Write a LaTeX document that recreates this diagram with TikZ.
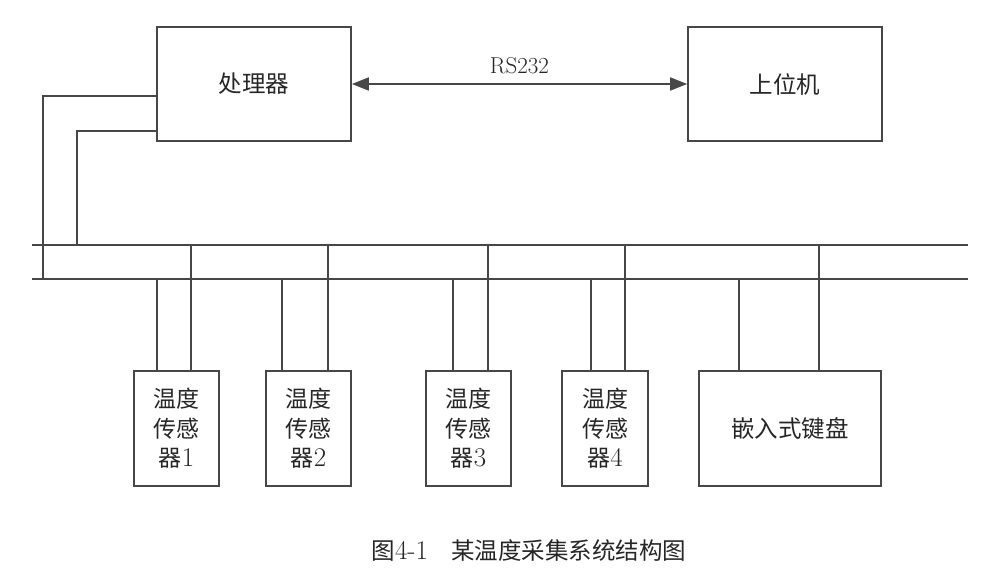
\documentclass[tikz,border=0pt]{standalone}
\usepackage{fontspec}
\newfontfamily\cjk{Noto Sans CJK SC}
\usetikzlibrary{arrows.meta}
\newcommand{\dg}[1]{{\rmfamily\fontsize{27}{29.5}\selectfont #1}}
\begin{document}
\begin{tikzpicture}[x=1pt,y=-1pt,
  ln/.style={line width=1.6pt,draw=black!72},
  box/.style={ln,rectangle,inner sep=0pt,text=black!85,align=center,
    font=\cjk\fontsize{23}{29.5}\selectfont},
  bigbox/.style={box,minimum width=194pt,minimum height=114pt},
  sbox/.style={box,minimum width=85pt,minimum height=115pt},
  arr/.style={ln,{Triangle[length=17pt,width=13pt]}-{Triangle[length=17pt,width=13pt]}}]
\useasboundingbox (0,0) rectangle (1008,583);
% boxes
\node[bigbox,font=\cjk\fontsize{23.5}{28}\selectfont] (proc) at (254,84) {处理器};
\node[bigbox,font=\cjk\fontsize{23.5}{28}\selectfont] (host) at (785,84) {上位机};
\node[sbox] (s1) at (176.5,428.5) {温度\\传感\\器\dg{1}};
\node[sbox] (s2) at (308.5,428.5) {温度\\传感\\器\dg{2}};
\node[sbox] (s3) at (468.5,428.5) {温度\\传感\\器\dg{3}};
\node[sbox,minimum width=86pt] (s4) at (605,428.5) {温度\\传感\\器\dg{4}};
\node[box,minimum width=182pt,minimum height=115pt,font=\cjk\fontsize{23.5}{28}\selectfont] (kb) at (790,428.5) {嵌入式键盘};
% RS232 link
\draw[arr] (proc.east) -- node[above=6pt,font=\fontsize{23}{27}\selectfont,text=black!85] (rs) {RS232} (host.west);
% buses
\coordinate (ub0) at (32,245); \coordinate (ub1) at (968,245);
\coordinate (lb0) at (32,279); \coordinate (lb1) at (968,279);
\draw[ln] (ub0) -- (ub1);
\draw[ln] (lb0) -- (lb1);
% processor to buses
\coordinate (pa) at (43,279);
\coordinate (pb) at (77,245);
\draw[ln] ([yshift=-12pt]proc.west) -| (pa);
\draw[ln] ([yshift=-47pt]proc.west) -| (pb);
% device taps
\coordinate (t1l) at (157,279); \coordinate (t1u) at (191,245);
\coordinate (t2l) at (282,279); \coordinate (t2u) at (328,245);
\coordinate (t3l) at (453,279); \coordinate (t3u) at (488,245);
\coordinate (t4l) at (591,279); \coordinate (t4u) at (625,245);
\coordinate (tkl) at (739,279); \coordinate (tku) at (819,245);
\draw[ln] (s1.north -| t1l) -- (t1l);
\draw[ln] (s1.north -| t1u) -- (t1u);
\draw[ln] (s2.north -| t2l) -- (t2l);
\draw[ln] (s2.north -| t2u) -- (t2u);
\draw[ln] (s3.north -| t3l) -- (t3l);
\draw[ln] (s3.north -| t3u) -- (t3u);
\draw[ln] (s4.north -| t4l) -- (t4l);
\draw[ln] (s4.north -| t4u) -- (t4u);
\draw[ln] (kb.north -| tkl) -- (tkl);
\draw[ln] (kb.north -| tku) -- (tku);
% caption
\node[font=\cjk\fontsize{23.5}{28}\selectfont,text=black!85] (cap) at (529,551) {图\dg{4-1}\quad 某温度采集系统结构图};
\end{tikzpicture}
\end{document}
